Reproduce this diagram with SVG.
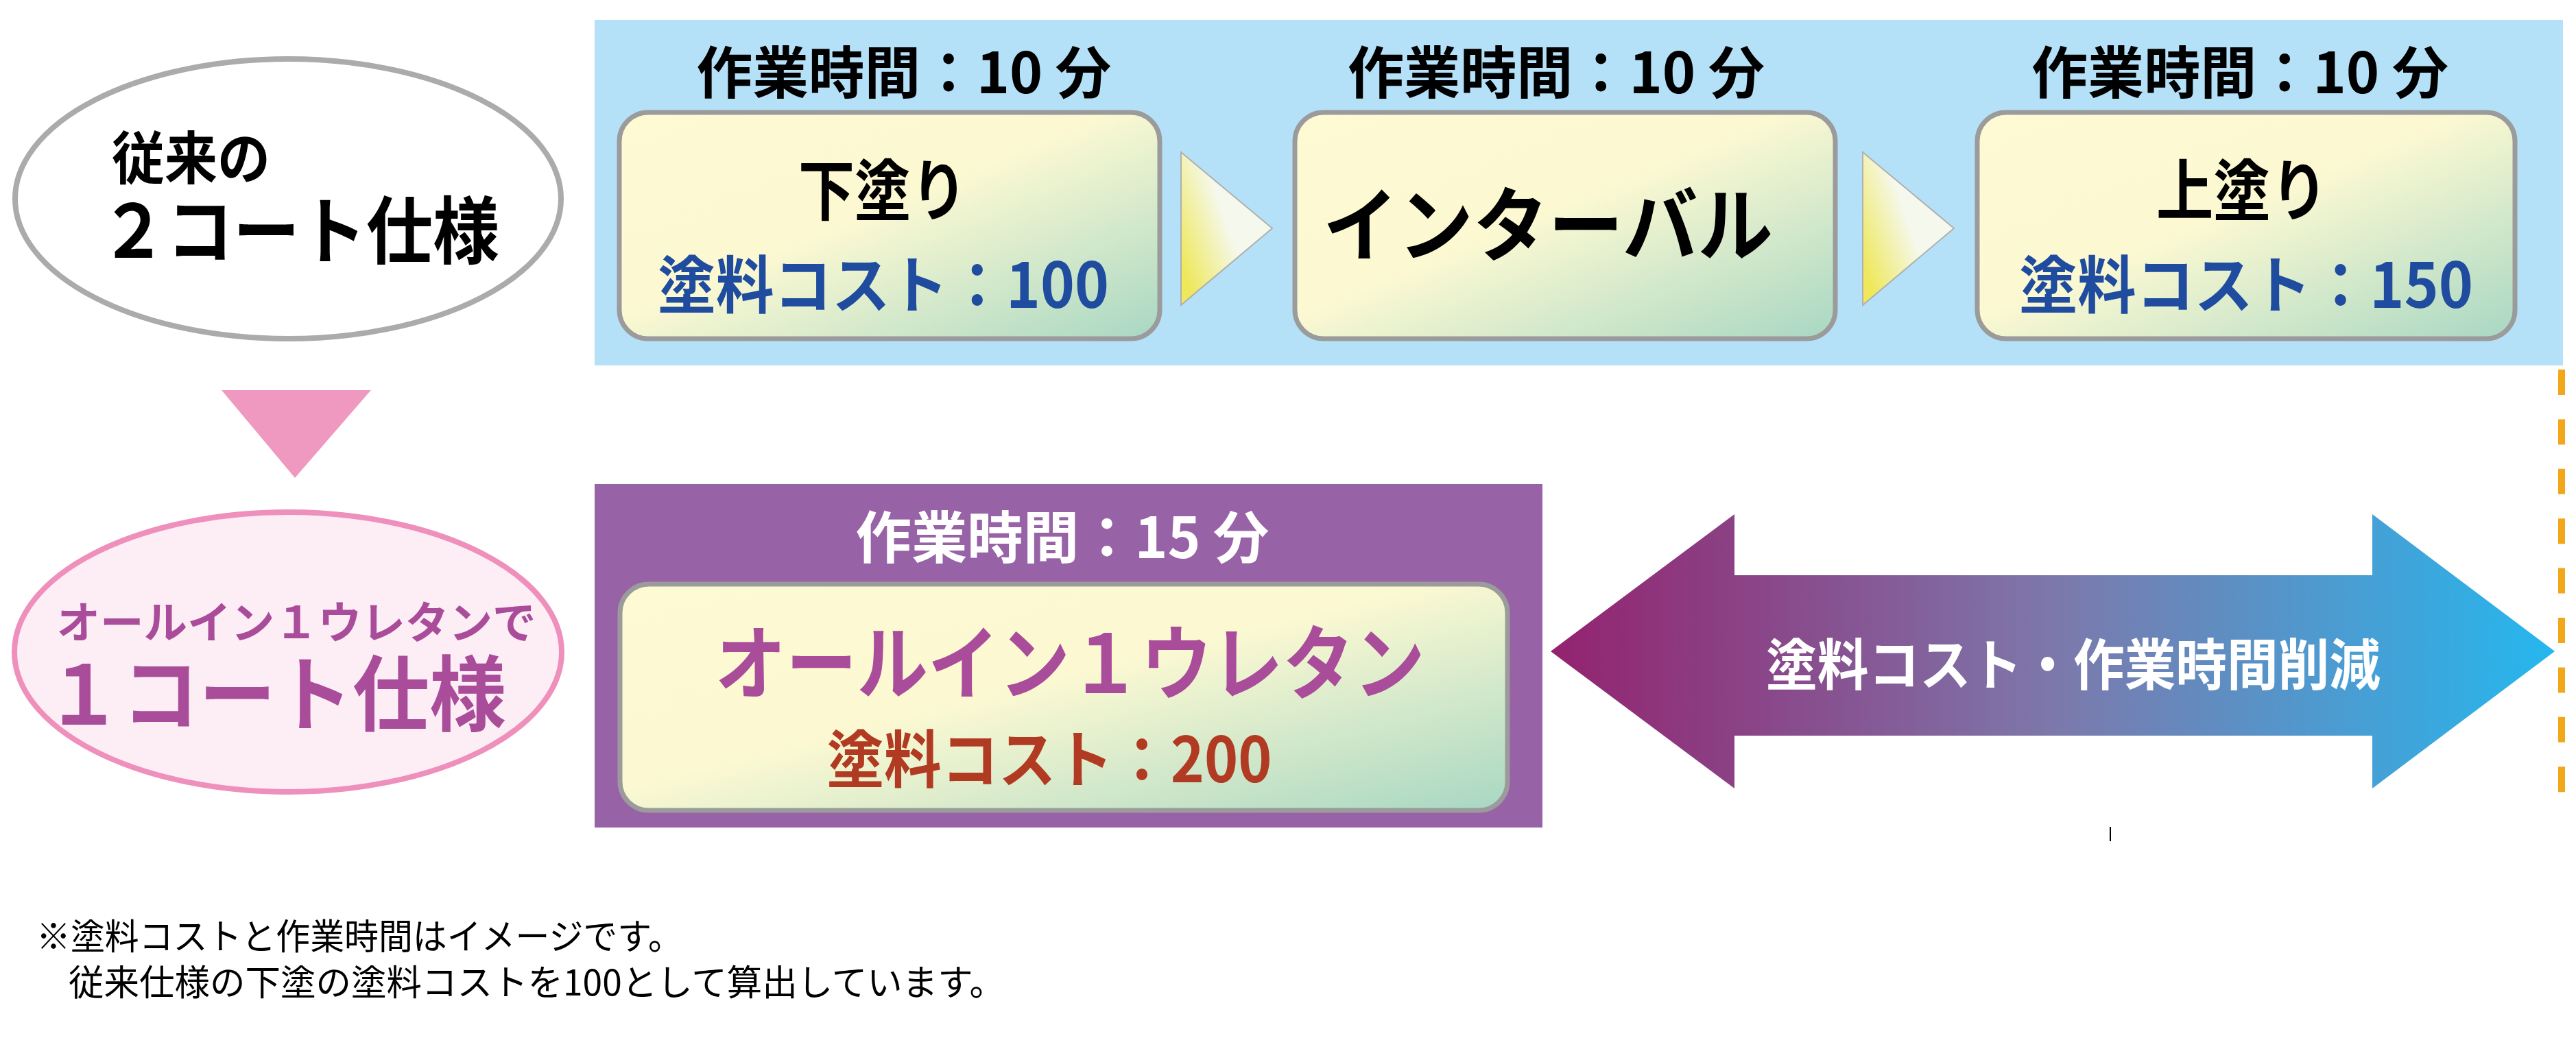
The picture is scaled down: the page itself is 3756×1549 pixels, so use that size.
<svg xmlns="http://www.w3.org/2000/svg" width="3756" height="1549" viewBox="0 0 3756 1549">
  <style>
    text { font-family: "Noto Sans CJK JP", "Noto Sans CJK SC", sans-serif; font-weight: 700; }
    .hdr { font-size: 82px; fill: #000; text-anchor: middle; }
    .ttl { font-size: 97px; fill: #000; text-anchor: middle; }
    .cost { font-size: 91px; fill: #1f4c9f; text-anchor: middle; }
    .step { fill: url(#boxGrad); stroke: #9b9b9b; stroke-width: 7; }
    .tri { fill: url(#triGrad); stroke: #b0b0b0; stroke-width: 2; }
    .note { font-size: 52px; font-weight: 400; fill: #000; }
  </style>
  <defs>
    <linearGradient id="boxGrad" x1="0" y1="0" x2="1" y2="1">
      <stop offset="0" stop-color="#fefbd4"/>
      <stop offset="0.45" stop-color="#fcf9d2"/>
      <stop offset="1" stop-color="#a8d7c3"/>
    </linearGradient>
    <linearGradient id="triGrad" x1="0" y1="0.75" x2="0.5" y2="0.45">
      <stop offset="0" stop-color="#eee85a"/>
      <stop offset="1" stop-color="#f5f8ec"/>
    </linearGradient>
    <linearGradient id="dblGrad" x1="0" y1="0" x2="1" y2="0">
      <stop offset="0" stop-color="#93226f"/>
      <stop offset="0.5" stop-color="#7d78ab"/>
      <stop offset="1" stop-color="#25b7ee"/>
    </linearGradient>
  </defs>

  <rect width="3756" height="1549" fill="#ffffff"/>

  <!-- blue band of the conventional process -->
  <rect id="band-2coat" x="867" y="29" width="2870" height="504" fill="#b4e1f7"/>

  <g id="node-conventional">
    <ellipse cx="420" cy="290" rx="398" ry="204" fill="#ffffff" stroke="#ababab" stroke-width="8"/>
    <text x="163" y="261" style="font-size:83px" textLength="231" lengthAdjust="spacingAndGlyphs">従来の</text>
    <text x="146" y="376" style="font-size:107px" textLength="582" lengthAdjust="spacingAndGlyphs">２コート仕様</text>
  </g>

  <g id="node-undercoat">
    <text class="hdr" x="1318" y="136" textLength="605" lengthAdjust="spacingAndGlyphs">作業時間：10 分</text>
    <rect class="step" x="903" y="164" width="788" height="330" rx="42"/>
    <text class="ttl" x="1287" y="313" textLength="246" lengthAdjust="spacingAndGlyphs">下塗り</text>
    <text class="cost" x="1288" y="449" textLength="658" lengthAdjust="spacingAndGlyphs">塗料コスト：100</text>
  </g>

  <g id="node-interval">
    <text class="hdr" x="2269" y="136" textLength="608" lengthAdjust="spacingAndGlyphs">作業時間：10 分</text>
    <rect class="step" x="1888" y="164" width="788" height="330" rx="42"/>
    <text x="2257" y="372" style="font-size:118px;text-anchor:middle" textLength="656" lengthAdjust="spacingAndGlyphs">インターバル</text>
  </g>

  <g id="node-topcoat">
    <text class="hdr" x="3266" y="136" textLength="608" lengthAdjust="spacingAndGlyphs">作業時間：10 分</text>
    <rect class="step" x="2883" y="164" width="784" height="330" rx="42"/>
    <text class="ttl" x="3269" y="313" textLength="250" lengthAdjust="spacingAndGlyphs">上塗り</text>
    <text class="cost" x="3275" y="449" textLength="662" lengthAdjust="spacingAndGlyphs">塗料コスト：150</text>
  </g>

  <g id="node-allin1">
    <ellipse cx="420" cy="951" rx="399" ry="204" fill="#fdeef5" stroke="#ee90bb" stroke-width="8"/>
    <text x="432" y="931" style="font-size:64px;fill:#a94d9b;text-anchor:middle" textLength="699" lengthAdjust="spacingAndGlyphs">オールイン１ウレタンで</text>
    <text x="402" y="1057" style="font-size:120px;fill:#a94d9b;text-anchor:middle" textLength="672" lengthAdjust="spacingAndGlyphs">１コート仕様</text>
  </g>

  <g id="node-1coat">
    <rect x="867" y="706" width="1382" height="501" fill="#9763a6"/>
    <text x="1549" y="814" style="font-size:82px;fill:#ffffff;text-anchor:middle" textLength="603" lengthAdjust="spacingAndGlyphs">作業時間：15 分</text>
    <rect class="step" x="904" y="852" width="1294" height="330" rx="42"/>
    <text x="1560" y="1011" style="font-size:118px;fill:#a94d9b;text-anchor:middle" textLength="1035" lengthAdjust="spacingAndGlyphs">オールイン１ウレタン</text>
    <text x="1530" y="1141" style="font-size:91px;fill:#b13b22;text-anchor:middle" textLength="649" lengthAdjust="spacingAndGlyphs">塗料コスト：200</text>
  </g>

  <g id="node-reduction">
    <polygon points="2261,950 2529,750 2529,839 3459,839 3459,750 3725,950 3459,1150 3459,1073 2529,1073 2529,1150" fill="url(#dblGrad)"/>
    <text x="3023" y="999" style="font-size:81px;fill:#ffffff;text-anchor:middle" textLength="896" lengthAdjust="spacingAndGlyphs">塗料コスト・作業時間削減</text>
  </g>

  <g id="connectors">
    <polygon class="tri" points="1722,222 1855,333 1722,445"/>
    <polygon class="tri" points="2716,222 2849,333 2716,445"/>
    <polygon points="323,569 541,569 430,697" fill="#ef98c0"/>
    <line x1="3735" y1="539" x2="3735" y2="1157" stroke="#f2a71b" stroke-width="10" stroke-dasharray="37 35.4"/>
    <line x1="3077" y1="1206" x2="3077" y2="1227" stroke="#000000" stroke-width="2"/>
  </g>

  <g id="footnote">
    <text class="note" x="53" y="1385" textLength="942" lengthAdjust="spacingAndGlyphs">※塗料コストと作業時間はイメージです。</text>
    <text class="note" x="100" y="1452" textLength="1365" lengthAdjust="spacingAndGlyphs">従来仕様の下塗の塗料コストを100として算出しています。</text>
  </g>
</svg>
